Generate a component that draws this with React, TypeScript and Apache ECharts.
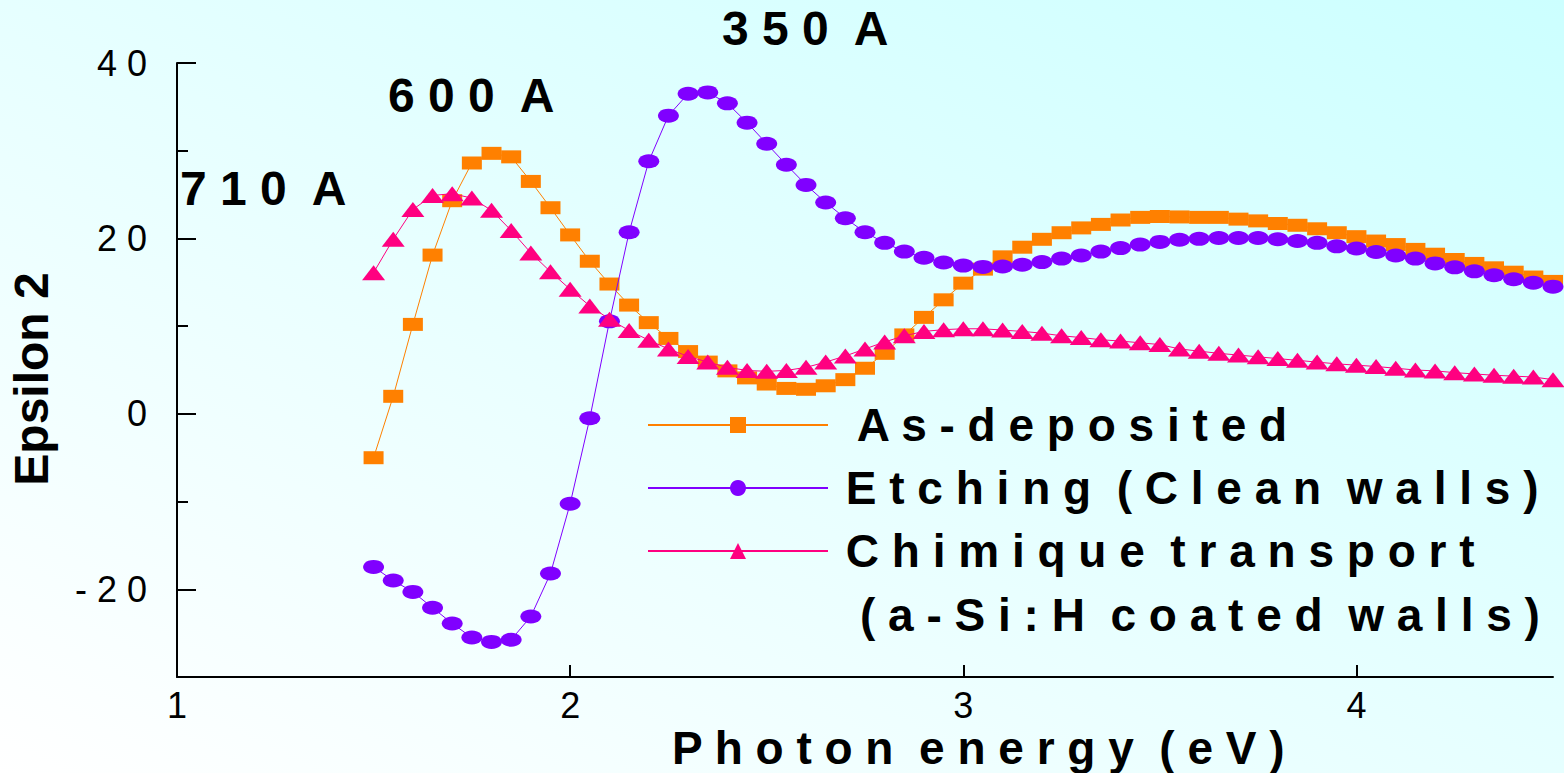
import React, { useEffect, useRef } from 'react';
import * as echarts from 'echarts';

const energy = [
  1.5, 1.55, 1.6, 1.65, 1.7, 1.75, 1.8, 1.85, 1.9, 1.95,
  2.0, 2.05, 2.1, 2.15, 2.2, 2.25, 2.3, 2.35, 2.4, 2.45,
  2.5, 2.55, 2.6, 2.65, 2.7, 2.75, 2.8, 2.85, 2.9, 2.95,
  3.0, 3.05, 3.1, 3.15, 3.2, 3.25, 3.3, 3.35, 3.4, 3.45,
  3.5, 3.55, 3.6, 3.65, 3.7, 3.75, 3.8, 3.85, 3.9, 3.95,
  4.0, 4.05, 4.1, 4.15, 4.2, 4.25, 4.3, 4.35, 4.4, 4.45, 4.5,
];

const asDeposited = [
  -5.0, 2.0, 10.2, 18.1, 24.3, 28.6, 29.7, 29.3, 26.5, 23.5,
  20.4, 17.4, 14.8, 12.4, 10.4, 8.6, 7.1, 5.9, 4.9, 4.1,
  3.4, 2.9, 2.8, 3.2, 3.9, 5.2, 6.9, 9.0, 11.0, 13.0,
  14.9, 16.5, 17.9, 19.0, 19.9, 20.65, 21.2, 21.6, 22.1, 22.4,
  22.5, 22.45, 22.4, 22.4, 22.2, 22.0, 21.7, 21.5, 21.1, 20.65,
  20.2, 19.7, 19.3, 18.75, 18.2, 17.6, 17.15, 16.65, 16.15, 15.6, 15.1,
];

const etching = [
  -17.45, -19.0, -20.3, -22.1, -23.9, -25.5, -26.0, -25.75, -23.1, -18.2,
  -10.25, -0.5, 10.55, 20.7, 28.8, 34.0, 36.5, 36.65, 35.4, 33.2,
  30.8, 28.4, 26.1, 24.1, 22.3, 20.7, 19.5, 18.5, 17.8, 17.25,
  16.9, 16.75, 16.8, 17.0, 17.3, 17.7, 18.05, 18.5, 18.9, 19.3,
  19.6, 19.85, 19.95, 20.05, 20.05, 20.05, 19.9, 19.7, 19.5, 19.1,
  18.85, 18.45, 18.05, 17.7, 17.15, 16.7, 16.25, 15.8, 15.35, 14.95, 14.5,
];

const chimique = [
  16.1, 19.9, 23.3, 24.9, 25.1, 24.6, 23.2, 20.9, 18.35, 16.2,
  14.2, 12.3, 10.8, 9.5, 8.4, 7.4, 6.55, 5.9, 5.3, 4.95,
  4.85, 4.95, 5.3, 5.9, 6.6, 7.4, 8.2, 8.9, 9.4, 9.6,
  9.7, 9.7, 9.55, 9.4, 9.2, 8.9, 8.7, 8.45, 8.3, 8.1,
  7.9, 7.4, 7.15, 6.9, 6.7, 6.5, 6.3, 6.1, 5.9, 5.7,
  5.55, 5.4, 5.2, 5.0, 4.9, 4.7, 4.55, 4.4, 4.3, 4.2, 3.9,
];

const seriesNames = ['As-deposited', 'Etching (Clean walls)', 'Chimique transport'];
const legendSecondLine = '(a-Si:H coated walls)';
const yTickLabels = [-20, 0, 20, 40];
const yMinorTicks = [-10, 10, 30];
const xTickLabels = [1, 2, 3, 4];
const thicknessLabels = ['710 A', '600 A', '350 A'];
const xAxisTitle = 'Photon energy (eV)';
const yAxisTitle = 'Epsilon 2';

const FONT = '"Liberation Sans", Arial, Helvetica, sans-serif';

const spaced = (s: string) =>
  s.split(' ').map((w) => w.split('').join(' ')).join('  ');

export default function App() {
  const ref = useRef<HTMLDivElement>(null);

  useEffect(() => {
    document.body.style.margin = '0';
    if (!ref.current) return;
    const chart = echarts.init(ref.current, undefined, { renderer: 'svg' });
    const axisLineStyle = { color: '#000', width: 2 };

    const mk = (ys: number[]) => energy.map((x, i) => [x, ys[i]]);

    const textEl = (x: number, y: number, text: string, size: number, extra: any = {}) => ({
      type: 'text',
      x,
      y,
      ...extra,
      style: {
        text,
        font: `bold ${size}px ${FONT}`,
        fill: '#000',
        textAlign: extra.align || 'left',
        textVerticalAlign: 'middle',
        lineHeight: size,
      },
    });

    const option: any = {
      animation: false,
      backgroundColor: 'transparent',
      grid: { left: 177, right: 11, top: 63, bottom: 96 },
      xAxis: {
        type: 'value',
        min: 1,
        max: 4.5,
        axisLine: { show: true, onZero: false, lineStyle: axisLineStyle },
        axisTick: {
          show: true,
          inside: true,
          length: 12,
          customValues: xTickLabels,
          lineStyle: axisLineStyle,
        },
        axisLabel: {
          customValues: xTickLabels,
          color: '#000',
          fontSize: 36,
          lineHeight: 28,
          fontFamily: FONT,
          margin: 14,
        },
        splitLine: { show: false },
      },
      yAxis: [
        {
          type: 'value',
          min: -30,
          max: 40,
          position: 'left',
          axisLine: { show: true, onZero: false, lineStyle: axisLineStyle },
          axisTick: {
            show: true,
            inside: true,
            length: 19,
            customValues: yTickLabels,
            lineStyle: axisLineStyle,
          },
          axisLabel: {
            customValues: yTickLabels,
            formatter: (v: number) => spaced(String(v)),
            color: '#000',
            fontSize: 36,
            fontFamily: FONT,
            margin: 30,
          },
          splitLine: { show: false },
        },
        {
          type: 'value',
          min: -30,
          max: 40,
          position: 'left',
          offset: 0,
          axisLine: { show: false, onZero: false },
          axisTick: {
            show: true,
            inside: true,
            length: 11,
            customValues: yMinorTicks,
            lineStyle: axisLineStyle,
          },
          axisLabel: { show: false },
          splitLine: { show: false },
        },
      ],
      legend: {
        orient: 'vertical',
        left: 647,
        top: 400,
        padding: 0,
        itemWidth: 180,
        itemHeight: 20,
        itemGap: 13,
        selectedMode: false,
        data: seriesNames,
        formatter: (name: string) => (name === seriesNames[0] ? '  ' : ' ') + spaced(name),
        textStyle: {
          fontSize: 46,
          fontWeight: 'bold',
          color: '#000',
          fontFamily: FONT,
          lineHeight: 50,
        },
      },
      series: [
        {
          name: seriesNames[0],
          type: 'line',
          data: mk(asDeposited),
          symbol: 'rect',
          symbolSize: [20, 13],
          itemStyle: { color: '#ff8000' },
          lineStyle: { width: 1, color: '#ff8000' },
          z: 2,
        },
        {
          name: seriesNames[1],
          type: 'line',
          data: mk(etching),
          symbol: 'circle',
          symbolSize: [21, 14],
          itemStyle: { color: '#8000ff' },
          lineStyle: { width: 1, color: '#8000ff' },
          z: 3,
        },
        {
          name: seriesNames[2],
          type: 'line',
          data: mk(chimique),
          symbol: 'triangle',
          symbolSize: [23, 15],
          itemStyle: { color: '#ff0080' },
          lineStyle: { width: 1, color: '#ff0080' },
          z: 4,
        },
      ],
      graphic: [
        textEl(180, 188, spaced(thicknessLabels[0]), 48),
        textEl(388, 95, spaced(thicknessLabels[1]), 48),
        textEl(722, 28, spaced(thicknessLabels[2]), 48),
        textEl(860, 615, spaced(legendSecondLine), 46),
        textEl(672, 748, spaced(xAxisTitle), 46),
        textEl(31, 379, yAxisTitle, 48, { rotation: Math.PI / 2, align: 'center' }),
      ],
    };

    chart.setOption(option);
    return () => {
      chart.dispose();
    };
  }, []);

  return (
    <div
      ref={ref}
      style={{
        width: 1564,
        height: 773,
        background: 'linear-gradient(to top right, #ffffff 0%, #e6ffff 50%, #ccffff 100%)',
      }}
    />
  );
}
